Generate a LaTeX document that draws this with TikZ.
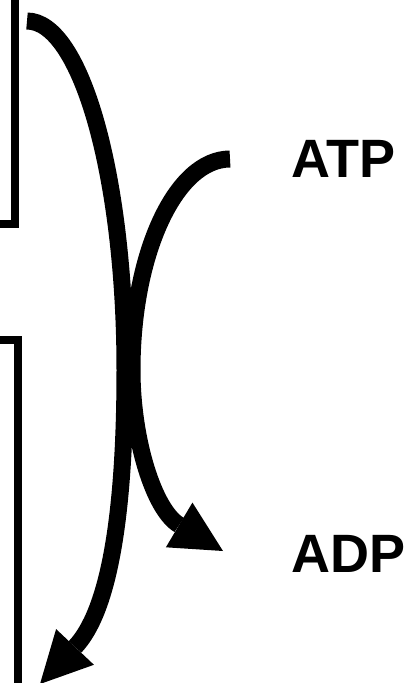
\documentclass[tikz,border=0pt]{standalone}
\usepackage{fontspec}
\setmainfont{Liberation Sans}
\usetikzlibrary{arrows.meta}
\tikzset{
  bracket/.style={line width=8pt, line join=miter, line cap=butt},
  flow/.style={line width=17pt, line cap=butt,
    -{Triangle[length=51pt,width=52pt,line width=0pt]}},
  label/.style={anchor=base west, inner sep=0pt, font=\fontsize{54pt}{60pt}\selectfont\bfseries}
}
\begin{document}
\begin{tikzpicture}[x=1pt,y=-1pt]
\useasboundingbox (0,0) rectangle (405,683);
% brackets
\coordinate (b1a) at (-5,224);
\coordinate (b1b) at (15,224);
\coordinate (b1c) at (15,-10);
\draw[bracket] (b1a) -- (b1b) -- (b1c);
\coordinate (b2a) at (-5,340);
\coordinate (b2b) at (18,340);
\coordinate (b2c) at (18,700);
\draw[bracket] (b2a) -- (b2b) -- (b2c);
% labels
\node[label] (atp) at (291,177) {ATP};
\node[label] (adp) at (291,572) {ADP};
% big arrow
\coordinate (s1) at (27,21);
\coordinate (m1) at (125,370);
\coordinate (e1) at (40,684);
\draw[flow] (s1) .. controls (81,21) and (125,177) .. (m1)
  .. controls (125,520) and (108,612) .. (e1);
% small arrow
\coordinate (s2) at (230,159);
\coordinate (m2) at (132,370);
\coordinate (e2) at (223,551);
\draw[flow] (s2) .. controls (176,159) and (132,253) .. (m2)
  .. controls (132,440) and (154,510) .. (e2);
\end{tikzpicture}
\end{document}
